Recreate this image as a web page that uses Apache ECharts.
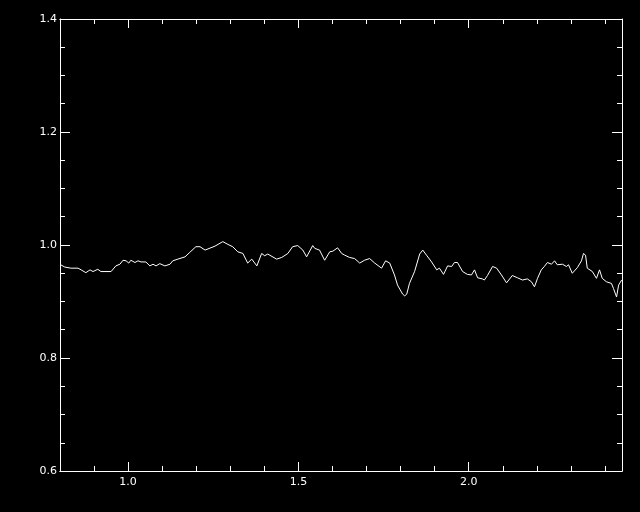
<!DOCTYPE html>
<html>
<head>
<meta charset="utf-8">
<script src="https://cdn.jsdelivr.net/npm/echarts@6/dist/echarts.min.js"></script>
<style>html,body{margin:0;padding:0;background:#000;}#c{width:640px;height:512px;}</style>
</head>
<body>
<div id="c"></div>
<script>
const xValues = [0.802,0.814,0.832,0.853,0.862,0.876,0.888,0.897,0.911,0.920,0.950,0.964,0.976,0.985,0.994,1.002,1.008,1.020,1.029,1.038,1.052,1.064,1.073,1.082,1.093,1.108,1.123,1.131,1.146,1.167,1.181,1.199,1.211,1.226,1.255,1.278,1.293,1.307,1.322,1.337,1.351,1.363,1.378,1.392,1.401,1.410,1.436,1.451,1.469,1.483,1.498,1.513,1.524,1.542,1.548,1.562,1.577,1.592,1.601,1.615,1.627,1.636,1.650,1.665,1.680,1.694,1.709,1.724,1.744,1.756,1.768,1.782,1.791,1.806,1.812,1.818,1.826,1.841,1.856,1.865,1.876,1.891,1.906,1.914,1.926,1.938,1.950,1.958,1.967,1.982,1.996,2.008,2.017,2.026,2.040,2.046,2.055,2.070,2.082,2.096,2.111,2.128,2.143,2.158,2.172,2.184,2.193,2.202,2.213,2.222,2.231,2.243,2.252,2.260,2.275,2.287,2.293,2.304,2.319,2.331,2.337,2.343,2.348,2.363,2.375,2.384,2.392,2.404,2.419,2.425,2.434,2.440,2.449];
const yValues = [0.965,0.961,0.959,0.959,0.956,0.951,0.956,0.953,0.957,0.953,0.953,0.963,0.966,0.973,0.972,0.968,0.973,0.969,0.972,0.970,0.970,0.963,0.966,0.963,0.967,0.963,0.966,0.972,0.975,0.979,0.987,0.997,0.997,0.991,0.998,1.006,1.001,0.997,0.988,0.985,0.968,0.975,0.963,0.985,0.981,0.984,0.975,0.978,0.985,0.997,0.999,0.991,0.979,0.999,0.994,0.991,0.973,0.988,0.989,0.995,0.985,0.982,0.978,0.976,0.968,0.973,0.976,0.968,0.959,0.972,0.968,0.947,0.929,0.913,0.910,0.913,0.932,0.953,0.984,0.991,0.982,0.970,0.956,0.959,0.948,0.963,0.962,0.969,0.969,0.953,0.948,0.947,0.956,0.942,0.940,0.938,0.946,0.962,0.959,0.947,0.933,0.946,0.942,0.938,0.940,0.935,0.926,0.941,0.956,0.962,0.969,0.966,0.972,0.965,0.966,0.962,0.965,0.950,0.960,0.972,0.985,0.982,0.959,0.953,0.941,0.956,0.941,0.935,0.932,0.923,0.908,0.929,0.938];
const xMajorTicks = [1.0, 1.5, 2.0];
const xMinorTicks = [0.9, 1.1, 1.2, 1.3, 1.4, 1.6, 1.7, 1.8, 1.9, 2.1, 2.2, 2.3, 2.4];
const yMin = 0.6, yMax = 1.4, yStep = 0.2;
const xMin = 0.8, xMax = 2.45;

const white = '#ffffff';
const font = 'DejaVu Sans';
function xAxis(pos, ticks, len, labels) {
  return {
    type: 'value', position: pos, min: xMin, max: xMax,
    axisLine: { show: true, onZero: false, lineStyle: { color: white, width: 1 } },
    axisTick: { show: true, inside: true, length: len, customValues: ticks, lineStyle: { color: white, width: 1 } },
    axisLabel: labels ? { show: true, customValues: ticks, color: white, fontSize: 11, fontFamily: font, margin: 6, formatter: v => v.toFixed(1) } : { show: false },
    splitLine: { show: false }
  };
}
function yAxis(pos, labels) {
  return {
    type: 'value', position: pos, min: yMin, max: yMax, interval: yStep,
    axisLine: { show: true, onZero: false, lineStyle: { color: white, width: 1 } },
    axisTick: { show: true, inside: true, length: 10, lineStyle: { color: white, width: 1 } },
    minorTick: { show: true, splitNumber: 4, length: 5, lineStyle: { color: white, width: 1 } },
    axisLabel: labels ? { show: true, color: white, fontSize: 11, fontFamily: font, margin: 3, formatter: v => v.toFixed(1) } : { show: false },
    splitLine: { show: false }, minorSplitLine: { show: false }
  };
}
const chart = echarts.init(document.getElementById('c'), null, { renderer: 'canvas' });
chart.setOption({
  backgroundColor: '#000000',
  animation: false,
  grid: { left: 60, top: 19, right: 18, bottom: 41, containLabel: false },
  xAxis: [
    xAxis('bottom', xMajorTicks, 9, true),
    xAxis('bottom', xMinorTicks, 5, false),
    xAxis('top', xMajorTicks, 9, false),
    xAxis('top', xMinorTicks, 5, false)
  ],
  yAxis: [yAxis('left', true), yAxis('right', false)],
  series: [{
    type: 'line',
    xAxisIndex: 0, yAxisIndex: 0,
    data: xValues.map((x, i) => [x, yValues[i]]),
    showSymbol: false, symbol: 'none',
    lineStyle: { color: white, width: 1 }
  }]
});
</script>
</body>
</html>
